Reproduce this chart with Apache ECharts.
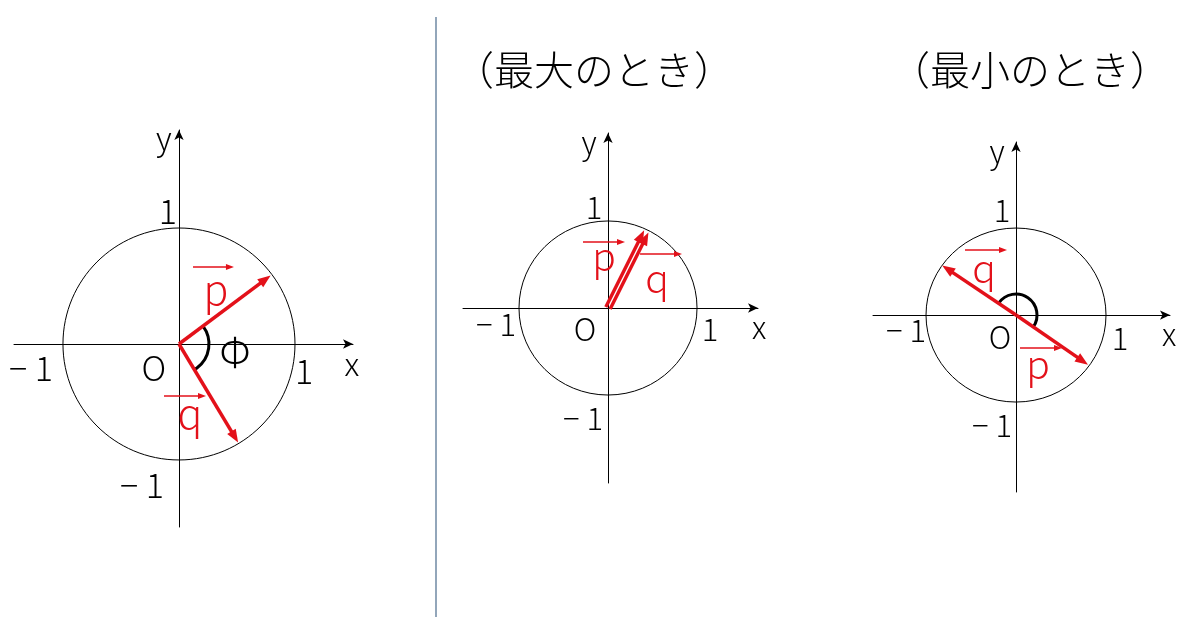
<!DOCTYPE html>
<html><head><meta charset="utf-8">
<script src="https://cdn.jsdelivr.net/npm/echarts@6/dist/echarts.min.js"></script>
<style>html,body{margin:0;padding:0;background:#fff}#c{width:1179px;height:617px}</style>
</head><body><div id="c"></div>
<script>
// ---------- data ----------
const panelTitles = ['', '（最大のとき）', '（最小のとき）'];
const circleRadius = 1;
const vectorNames = ['p', 'q'];
const pVectors = [[0.79, 0.59], [0.43, 0.88], [0.80, -0.57]];
const qVectors = [[0.51, -0.85], [0.43, 0.88], [-0.82, 0.57]];
const xExtents = [[-1.422, 1.5], [-1.629, 1.685], [-1.589, 1.711]];
const yExtents = [[-1.578, 1.845], [-2.011, 2.011], [-2.034, 1.989]];
const tickText = ['1', '− 1'];
const angleSymbol = 'Φ';
const axisNames = ['x', 'y'];
const originName = 'O';

// ---------- layout / style (not data) ----------
const FONT = '"Noto Sans CJK JP","Noto Sans",sans-serif';
const RED = '#e3111a';
const grids = [
  {left: 14, top: 130, width: 339, height: 397},
  {left: 463, top: 133, width: 295, height: 350},
  {left: 873, top: 142, width: 297, height: 350}
];
// text placements in each panel's data coordinates: [text, x, y, kind]
const placements = [
  [[axisNames[1], -0.13, 1.78, 'axis'], [tickText[0], -0.095, 1.147, 'num'], [tickText[1], -1.276, -0.207, 'num'],
   [originName, -0.216, -0.207, 'num'], [tickText[0], 1.078, -0.233, 'num'], [axisNames[0], 1.491, -0.172, 'axis'],
   [tickText[1], -0.319, -1.216, 'num'], [angleSymbol, 0.483, -0.069, 'phi'],
   [vectorNames[0], 0.319, 0.474, 'vec'], [vectorNames[1], 0.095, -0.603, 'vec']],
  [[axisNames[1], -0.213, 1.908, 'axis'], [tickText[0], -0.157, 1.161, 'num'], [tickText[1], -1.258, -0.184, 'num'],
   [originName, -0.258, -0.241, 'num'], [tickText[0], 1.146, -0.241, 'num'], [axisNames[0], 1.697, -0.218, 'axis'],
   [tickText[1], -0.281, -1.264, 'num'],
   [vectorNames[0], -0.045, 0.598, 'vec'], [vectorNames[1], 0.551, 0.345, 'vec']],
  [[axisNames[1], -0.211, 1.885, 'axis'], [tickText[0], -0.156, 1.207, 'num'], [tickText[1], -1.222, -0.172, 'num'],
   [originName, -0.178, -0.253, 'num'], [tickText[0], 1.156, -0.264, 'num'], [axisNames[0], 1.700, -0.218, 'axis'],
   [tickText[1], -0.267, -1.264, 'num'],
   [vectorNames[1], -0.356, 0.540, 'vec'], [vectorNames[0], 0.244, -0.563, 'vec']]
];
const labelArrowPlacements = [
  [[0.121, 0.664, 0.474, 0.664], [-0.129, -0.448, 0.233, -0.448]],
  [[-0.281, 0.759, 0.191, 0.759], [0.360, 0.621, 0.831, 0.621]],
  [[-0.567, 0.747, -0.1, 0.747], [0.044, -0.379, 0.511, -0.379]]
];
const vectorOffsetPx = [[0, 0], [-2.4, 2.4], [0, 0]];
const vectorLineWidth = [3.5, 3.4, 3.5];
const arcStyle = [{r: 30, clockwise: true}, null, {r: 21, clockwise: false}];
const fontSizes = [
  {num: 34, axis: 32, vec: 41, phi: 40},
  {num: 31, axis: 31, vec: 39, phi: 40},
  {num: 31, axis: 31, vec: 39, phi: 40}
];

function arrowEls(s, e, lw, hl, hw, color) {
  const dx = e[0] - s[0], dy = e[1] - s[1], L = Math.hypot(dx, dy);
  const ux = dx / L, uy = dy / L, nx = -uy, ny = ux;
  const bx = e[0] - ux * hl, by = e[1] - uy * hl;
  return [
    {type: 'line', shape: {x1: s[0], y1: s[1], x2: bx + ux * 2, y2: by + uy * 2},
     style: {stroke: color, lineWidth: lw, lineCap: 'butt'}},
    {type: 'polygon', shape: {points: [[e[0], e[1]], [bx + nx * hw / 2, by + ny * hw / 2], [bx - nx * hw / 2, by - ny * hw / 2]]},
     style: {fill: color}}
  ];
}

const xAxis = [], yAxis = [], series = [];
for (let i = 0; i < 3; i++) {
  const axisLine = {show: true, onZero: true, symbol: ['none', 'arrow'], symbolSize: [7, 10],
    lineStyle: {color: '#000', width: 1}};
  xAxis.push({type: 'value', gridIndex: i, min: xExtents[i][0], max: xExtents[i][1],
    axisLine, axisTick: {show: false}, axisLabel: {show: false}, splitLine: {show: false}});
  yAxis.push({type: 'value', gridIndex: i, min: yExtents[i][0], max: yExtents[i][1],
    axisLine, axisTick: {show: false}, axisLabel: {show: false}, splitLine: {show: false}});
  const base = {coordinateSystem: 'cartesian2d', xAxisIndex: i, yAxisIndex: i, silent: true};

  // unit circle
  series.push(Object.assign({type: 'custom', data: [[0, 0, circleRadius]],
    renderItem: (params, api) => {
      const c = api.coord([api.value(0), api.value(1)]);
      const s = api.size([api.value(2), api.value(2)]);
      return {type: 'ellipse', shape: {cx: c[0], cy: c[1], rx: s[0], ry: s[1]},
        style: {fill: null, stroke: '#000', lineWidth: 1}};
    }}, base));

  // angle arc
  if (arcStyle[i]) {
    const st = arcStyle[i];
    series.push(Object.assign({type: 'custom', data: [[pVectors[i][0], pVectors[i][1], qVectors[i][0], qVectors[i][1]]],
      renderItem: (params, api) => {
        const o = api.coord([0, 0]);
        const p = api.coord([api.value(0), api.value(1)]);
        const q = api.coord([api.value(2), api.value(3)]);
        const a1 = Math.atan2(p[1] - o[1], p[0] - o[0]);
        const a2 = Math.atan2(q[1] - o[1], q[0] - o[0]);
        return {type: 'arc', shape: {cx: o[0], cy: o[1], r: st.r, startAngle: a1, endAngle: a2, clockwise: st.clockwise},
          style: {fill: null, stroke: '#000', lineWidth: 3}};
      }}, base));
  }

  // vectors p and q
  series.push(Object.assign({type: 'custom', data: [pVectors[i], qVectors[i]],
    renderItem: (params, api) => {
      const o = api.coord([0, 0]);
      const e = api.coord([api.value(0), api.value(1)]);
      const off = vectorOffsetPx[i][params.dataIndex];
      const dx = e[0] - o[0], dy = e[1] - o[1], L = Math.hypot(dx, dy);
      const nx = -dy / L * off, ny = dx / L * off;
      return {type: 'group', children: arrowEls([o[0] + nx, o[1] + ny], [e[0] + nx, e[1] + ny],
        vectorLineWidth[i], 13, 10, RED)};
    }}, base));

  // small arrows above p, q labels
  series.push(Object.assign({type: 'custom', data: labelArrowPlacements[i],
    renderItem: (params, api) => {
      const s = api.coord([api.value(0), api.value(1)]);
      const e = api.coord([api.value(2), api.value(3)]);
      return {type: 'group', children: arrowEls(s, e, 1.5, 8, 6, RED)};
    }}, base));

  // texts
  const fs = fontSizes[i];
  series.push(Object.assign({type: 'custom',
    data: placements[i].map(d => ({value: [d[1], d[2]], name: d[0]})),
    renderItem: (params, api) => {
      const d = placements[i][params.dataIndex];
      const c = api.coord([api.value(0), api.value(1)]);
      return {type: 'text', style: {text: d[0], x: c[0], y: c[1], align: 'center', verticalAlign: 'middle',
        fontSize: fs[d[3]], fontFamily: FONT, fontWeight: 300, fill: d[3] === 'vec' ? RED : '#000'}};
    }}, base));
}

const chart = echarts.init(document.getElementById('c'), null, {renderer: 'canvas'});
chart.setOption({
  animation: false,
  backgroundColor: '#fff',
  grid: grids.map(g => Object.assign({containLabel: false}, g)),
  xAxis, yAxis, series,
  graphic: [
    {type: 'line', shape: {x1: 436, y1: 17, x2: 436, y2: 617}, style: {stroke: '#4a6b8c', lineWidth: 1.2}},
    {type: 'text', style: {text: panelTitles[1], x: 594, y: 70, align: 'center', verticalAlign: 'middle',
      fontSize: 40, fontFamily: FONT, fontWeight: 300, fill: '#000'}},
    {type: 'text', style: {text: panelTitles[2], x: 1030, y: 70, align: 'center', verticalAlign: 'middle',
      fontSize: 40, fontFamily: FONT, fontWeight: 300, fill: '#000'}}
  ]
});
</script></body></html>
